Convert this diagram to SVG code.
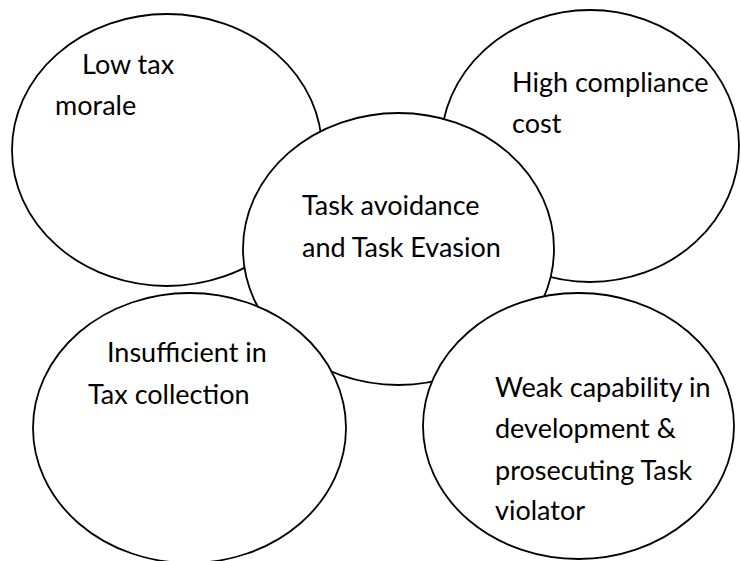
<svg xmlns="http://www.w3.org/2000/svg" width="741" height="561" viewBox="0 0 741 561">
  <style>
    .bubble { fill: #ffffff; stroke: #000000; stroke-width: 1.8; }
    .label { font-family: Lato, "Open Sans", "Liberation Sans", sans-serif; font-size: 27px; fill: #000000; }
  </style>
  <rect x="0" y="0" width="741" height="561" fill="#ffffff"/>

  <!-- outer causes, upper row -->
  <g id="low-tax-morale">
    <ellipse class="bubble" cx="167" cy="150" rx="155" ry="136"/>
    <text class="label" x="82" y="74">Low tax</text>
    <text class="label" x="55" y="115">morale</text>
  </g>

  <g id="high-compliance-cost">
    <ellipse class="bubble" cx="590" cy="146" rx="149" ry="136"/>
    <text class="label" x="512" y="92">High compliance</text>
    <text class="label" x="512" y="133">cost</text>
  </g>

  <!-- central issue -->
  <g id="task-avoidance-evasion">
    <ellipse class="bubble" cx="398.5" cy="249" rx="155.5" ry="136"/>
    <text class="label" x="302" y="215">Task avoidance</text>
    <text class="label" x="302" y="257">and Task Evasion</text>
  </g>

  <!-- outer causes, lower row -->
  <g id="insufficient-tax-collection">
    <ellipse class="bubble" cx="189.5" cy="428" rx="156.5" ry="135"/>
    <text class="label" x="107" y="362">Insufficient in</text>
    <text class="label" x="88" y="404">Tax collection</text>
  </g>

  <g id="weak-capability">
    <ellipse class="bubble" cx="578.5" cy="426" rx="155.5" ry="133"/>
    <text class="label" x="495" y="397">Weak capability in</text>
    <text class="label" x="495" y="438">development &amp;</text>
    <text class="label" x="495" y="480">prosecuting Task</text>
    <text class="label" x="495" y="520">violator</text>
  </g>
</svg>
